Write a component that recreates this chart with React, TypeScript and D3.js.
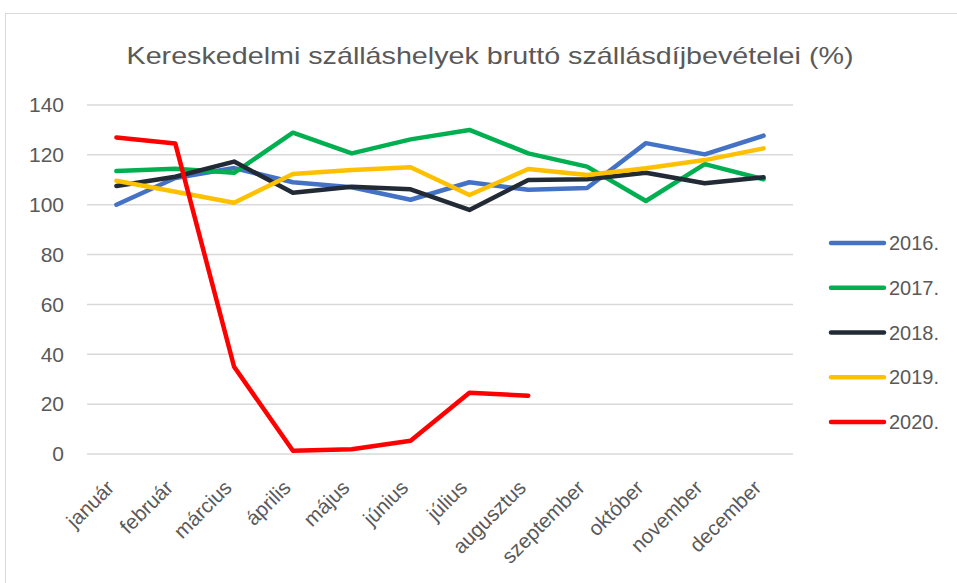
import React from "react";
import * as d3 from "d3";

const months = ["január","február","március","április","május","június","július","augusztus","szeptember","október","november","december"];
const s2016 = [100, 110.7, 114.7, 109, 107, 102, 109, 106, 106.7, 124.7, 120.2, 127.7];
const s2017 = [113.5, 114.4, 112.8, 128.9, 120.6, 126.2, 130, 120.6, 115.3, 101.5, 116.3, 110.2];
const s2018 = [107.5, 111.2, 117.3, 104.8, 107.2, 106.2, 97.9, 109.9, 110.2, 112.8, 108.6, 111];
const s2019 = [109.6, 105.2, 100.8, 112.3, 113.9, 115, 103.9, 114.3, 111.9, 114.6, 117.9, 122.6];
const s2020 = [127, 124.6, 35, 1.3, 1.9, 5.3, 24.6, 23.4];
const seriesNames = ["2016.", "2017.", "2018.", "2019.", "2020."];
const seriesColors = ["#4472C4", "#00B050", "#222A35", "#FFC000", "#FF0000"];
const yTicks = [0, 20, 40, 60, 80, 100, 120, 140];
const title = "Kereskedelmi szálláshelyek bruttó szállásdíjbevételei (%)";

export default function App() {
  const W = 957, H = 583;
  const left = 87, right = 793, top = 105, bottom = 454;
  const x = d3.scaleBand<string>().domain(months).range([left, right]);
  const y = d3.scaleLinear().domain([0, 140]).range([bottom, top]);
  const allSeries = [s2016, s2017, s2018, s2019, s2020];
  const line = d3.line<number>()
    .x((_, i) => (x(months[i]) as number) + x.bandwidth() / 2)
    .y((d) => y(d));
  const font = "'Liberation Sans', Arial, sans-serif";
  const legendY = d3.scalePoint<string>().domain(seriesNames).range([243, 422]);
  return (
    <svg width={W} height={H} style={{ position: "absolute", left: 0, top: 0, background: "#fff" }}>
      <rect x={5.5} y={13.5} width={1000} height={1000} fill="#fff" stroke="#d9d9d9" strokeWidth={1} />
      <text x={490} y={64} textAnchor="middle" fontFamily={font} fontSize={24} fill="#595959"
        textLength={727} lengthAdjust="spacingAndGlyphs">{title}</text>
      {yTicks.map((t) => (
        <g key={t}>
          <line x1={left} x2={right} y1={y(t)} y2={y(t)} stroke="#d9d9d9" strokeWidth={1.5} />
          <text x={64} y={y(t)} dy="0.35em" textAnchor="end" fontFamily={font} fontSize={21} fill="#595959">{t}</text>
        </g>
      ))}
      {months.map((m) => {
        const cx = (x(m) as number) + x.bandwidth() / 2;
        return (
          <text key={m} transform={`translate(${cx - 1},${489}) rotate(-45)`} textAnchor="end"
            fontFamily={font} fontSize={20.5} fill="#595959">{m}</text>
        );
      })}
      {allSeries.map((s, i) => (
        <path key={i} d={line(s) as string} fill="none" stroke={seriesColors[i]} strokeWidth={4.5}
          strokeLinejoin="round" strokeLinecap="round" />
      ))}
      {seriesNames.map((n, i) => (
        <g key={n}>
          <line x1={831} x2={884} y1={legendY(n)} y2={legendY(n)} stroke={seriesColors[i]} strokeWidth={4.5} strokeLinecap="round" />
          <text x={889} y={legendY(n)} dy="0.35em" fontFamily={font} fontSize={20} fill="#595959">{n}</text>
        </g>
      ))}
    </svg>
  );
}
